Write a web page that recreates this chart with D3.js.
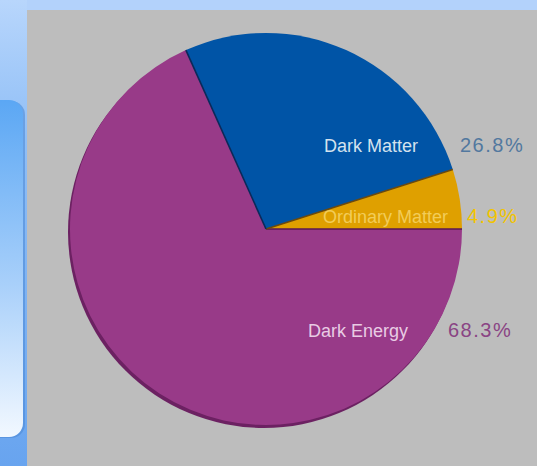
<!DOCTYPE html>
<html>
<head>
<meta charset="utf-8">
<script src="https://cdn.jsdelivr.net/npm/d3@7"></script>
<style>
  html, body { margin: 0; padding: 0; background: #b4d3fb; }
  svg { display: block; }
</style>
</head>
<body>
<svg id="chart" width="537" height="466"></svg>
<script>
// Composition of the universe
const categories = ["Ordinary Matter", "Dark Matter", "Dark Energy"];
const values = [4.9, 26.8, 68.3];
const valueLabels = ["4.9%", "26.8%", "68.3%"];

// Styling
const sliceColors = ["#dfa000", "#0054a6", "#983a88"];
const edgeColors = ["#6a4a10", "#0a2a5a", "#5a1a50"];
const nameColors = ["#f2cc58", "#d4e2ee", "#e8cce4"];
const pctColors = ["#f2c400", "#52789f", "#8a4484"];

const W = 537, H = 466;
const svg = d3.select("#chart");
const defs = svg.append("defs");

// page background and side card
const bgGrad = defs.append("linearGradient").attr("id", "bg").attr("x1", 0).attr("y1", 0).attr("x2", 0).attr("y2", 1);
bgGrad.append("stop").attr("offset", "0%").attr("stop-color", "#b8d6fc");
bgGrad.append("stop").attr("offset", "30%").attr("stop-color", "#8fbef6");
bgGrad.append("stop").attr("offset", "100%").attr("stop-color", "#68a4ef");
svg.append("rect").attr("width", W).attr("height", H).attr("fill", "url(#bg)");
svg.append("rect").attr("x", 27).attr("y", 0).attr("width", W - 27).attr("height", 10).attr("fill", "#b3d2fb");

const cardGrad = defs.append("linearGradient").attr("id", "card").attr("x1", 0).attr("y1", 0).attr("x2", 0).attr("y2", 1);
cardGrad.append("stop").attr("offset", "0%").attr("stop-color", "#5ba7f4");
cardGrad.append("stop").attr("offset", "55%").attr("stop-color", "#a9d0fa");
cardGrad.append("stop").attr("offset", "100%").attr("stop-color", "#f2f8ff");
svg.append("rect").attr("x", -30).attr("y", 101).attr("width", 55).attr("height", 337)
  .attr("rx", 14).attr("fill", "#4f8ad6").attr("opacity", 0.6);
svg.append("rect").attr("x", -30).attr("y", 100).attr("width", 53).attr("height", 337)
  .attr("rx", 14).attr("fill", "url(#card)");

// grey chart panel
svg.append("rect").attr("x", 27).attr("y", 10).attr("width", W - 27).attr("height", H - 10).attr("fill", "#bdbdbd");

// pie
const cx = 266, cy = 229, r = 196;
const g = svg.append("g").attr("transform", `translate(${cx},${cy})`);

// slices run counter-clockwise from 3 o'clock
const pie = d3.pie().sort(null).startAngle(Math.PI / 2).endAngle(Math.PI / 2 - 2 * Math.PI);
const arcs = pie(values);
const arc = d3.arc().innerRadius(0).outerRadius(r);

// darker rim giving the disc a little depth
g.append("circle").attr("cx", -2).attr("cy", 3).attr("r", r).attr("fill", "#6c2162");

g.selectAll("path.slice").data(arcs).join("path")
  .attr("class", "slice")
  .attr("d", arc)
  .attr("fill", (d, i) => sliceColors[i]);

// radial separators between slices
g.selectAll("line.sep").data(arcs).join("line")
  .attr("class", "sep")
  .attr("x1", 0).attr("y1", 0)
  .attr("x2", d => r * Math.sin(d.startAngle))
  .attr("y2", d => -r * Math.cos(d.startAngle))
  .attr("stroke", (d, i) => edgeColors[(i + 2) % 3])
  .attr("stroke-width", 1.6);

// labels: name inside the slice, value to the right of the disc
const labelDy = [-6, -77, 108];          // baseline offsets from centre
const nameRight = [182, 152, 142];       // right edge of name, from centre
const pctLeft = [201, 194, 182];         // left edge of value, from centre

const labels = g.selectAll("g.lbl").data(arcs).join("g").attr("class", "lbl");
labels.append("text")
  .attr("x", (d, i) => nameRight[i]).attr("y", (d, i) => labelDy[i])
  .attr("text-anchor", "end")
  .attr("font-family", "Liberation Sans, Arial, sans-serif")
  .attr("font-size", 18)
  .attr("fill", (d, i) => nameColors[i])
  .text((d, i) => categories[i]);
labels.append("text")
  .attr("x", (d, i) => pctLeft[i]).attr("y", (d, i) => labelDy[i])
  .attr("font-family", "Liberation Sans, Arial, sans-serif")
  .attr("font-size", 20)
  .attr("letter-spacing", 1.5)
  .attr("fill", (d, i) => pctColors[i])
  .text((d, i) => valueLabels[i]);
</script>
</body>
</html>
